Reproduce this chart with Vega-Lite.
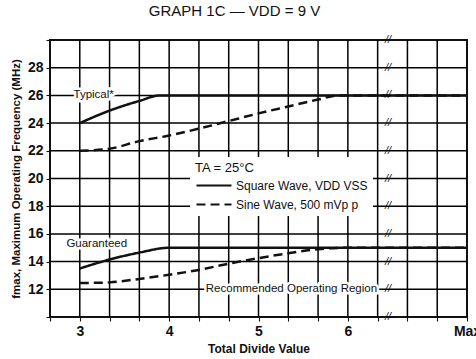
{
  "$schema": "https://vega.github.io/schema/vega-lite/v6.json",
  "autosize": "none",
  "width": 417,
  "height": 277,
  "padding": {"left": 50, "top": 40, "right": 9, "bottom": 42},
  "background": "white",
  "title": {
    "text": "GRAPH 1C — VDD = 9 V",
    "font": "Liberation Sans",
    "fontSize": 15,
    "fontWeight": "normal",
    "color": "#111",
    "anchor": "middle",
    "dx": -24,
    "offset": 14
  },
  "config": {
    "view": {"stroke": "#111", "strokeWidth": 2},
    "font": "Liberation Sans",
    "axis": {
      "domain": false,
      "tickColor": "#111",
      "tickSize": 4,
      "tickWidth": 1.1,
      "labelColor": "#111",
      "labelFont": "Liberation Sans",
      "labelFontSize": 14,
      "labelFontWeight": "bold",
      "labelOverlap": false,
      "titleColor": "#111",
      "titleFont": "Liberation Sans",
      "titleFontSize": 12,
      "titleFontWeight": "bold"
    }
  },
  "datasets": {
    "curves": [
      {"x": 3, "f": 24, "curve": "Typical", "wave": "Square Wave, VDD VSS"},
      {"x": 3.333, "f": 24.9, "curve": "Typical", "wave": "Square Wave, VDD VSS"},
      {"x": 3.667, "f": 25.6, "curve": "Typical", "wave": "Square Wave, VDD VSS"},
      {"x": 3.9, "f": 26, "curve": "Typical", "wave": "Square Wave, VDD VSS"},
      {"x": 7.3333, "f": 26, "curve": "Typical", "wave": "Square Wave, VDD VSS"},
      {"x": 3, "f": 22, "curve": "Typical", "wave": "Sine Wave, 500 mVp p"},
      {"x": 3.333, "f": 22.15, "curve": "Typical", "wave": "Sine Wave, 500 mVp p"},
      {"x": 3.667, "f": 22.7, "curve": "Typical", "wave": "Sine Wave, 500 mVp p"},
      {"x": 4, "f": 23.1, "curve": "Typical", "wave": "Sine Wave, 500 mVp p"},
      {"x": 4.333, "f": 23.6, "curve": "Typical", "wave": "Sine Wave, 500 mVp p"},
      {"x": 4.667, "f": 24.15, "curve": "Typical", "wave": "Sine Wave, 500 mVp p"},
      {"x": 5, "f": 24.7, "curve": "Typical", "wave": "Sine Wave, 500 mVp p"},
      {"x": 5.333, "f": 25.2, "curve": "Typical", "wave": "Sine Wave, 500 mVp p"},
      {"x": 5.667, "f": 25.7, "curve": "Typical", "wave": "Sine Wave, 500 mVp p"},
      {"x": 5.9, "f": 26, "curve": "Typical", "wave": "Sine Wave, 500 mVp p"},
      {"x": 7.3333, "f": 26, "curve": "Typical", "wave": "Sine Wave, 500 mVp p"},
      {"x": 3, "f": 13.5, "curve": "Guaranteed", "wave": "Square Wave, VDD VSS"},
      {"x": 3.333, "f": 14.15, "curve": "Guaranteed", "wave": "Square Wave, VDD VSS"},
      {"x": 3.667, "f": 14.65, "curve": "Guaranteed", "wave": "Square Wave, VDD VSS"},
      {"x": 4, "f": 15, "curve": "Guaranteed", "wave": "Square Wave, VDD VSS"},
      {"x": 7.3333, "f": 15, "curve": "Guaranteed", "wave": "Square Wave, VDD VSS"},
      {"x": 3, "f": 12.45, "curve": "Guaranteed", "wave": "Sine Wave, 500 mVp p"},
      {"x": 3.333, "f": 12.5, "curve": "Guaranteed", "wave": "Sine Wave, 500 mVp p"},
      {"x": 3.667, "f": 12.75, "curve": "Guaranteed", "wave": "Sine Wave, 500 mVp p"},
      {"x": 4, "f": 13.05, "curve": "Guaranteed", "wave": "Sine Wave, 500 mVp p"},
      {"x": 4.333, "f": 13.4, "curve": "Guaranteed", "wave": "Sine Wave, 500 mVp p"},
      {"x": 4.667, "f": 13.85, "curve": "Guaranteed", "wave": "Sine Wave, 500 mVp p"},
      {"x": 5, "f": 14.25, "curve": "Guaranteed", "wave": "Sine Wave, 500 mVp p"},
      {"x": 5.333, "f": 14.6, "curve": "Guaranteed", "wave": "Sine Wave, 500 mVp p"},
      {"x": 5.667, "f": 14.9, "curve": "Guaranteed", "wave": "Sine Wave, 500 mVp p"},
      {"x": 6, "f": 15, "curve": "Guaranteed", "wave": "Sine Wave, 500 mVp p"},
      {"x": 7.3333, "f": 15, "curve": "Guaranteed", "wave": "Sine Wave, 500 mVp p"}
    ],
    "grid": [
      {"g": "v1", "x": 3, "f": 10}, {"g": "v1", "x": 3, "f": 30},
      {"g": "v2", "x": 3.3333333, "f": 10}, {"g": "v2", "x": 3.3333333, "f": 30},
      {"g": "v3", "x": 3.6666667, "f": 10}, {"g": "v3", "x": 3.6666667, "f": 30},
      {"g": "v4", "x": 4, "f": 10}, {"g": "v4", "x": 4, "f": 30},
      {"g": "v5", "x": 4.3333333, "f": 10}, {"g": "v5", "x": 4.3333333, "f": 30},
      {"g": "v6", "x": 4.6666667, "f": 10}, {"g": "v6", "x": 4.6666667, "f": 30},
      {"g": "v7", "x": 5, "f": 10}, {"g": "v7", "x": 5, "f": 30},
      {"g": "v8", "x": 5.3333333, "f": 10}, {"g": "v8", "x": 5.3333333, "f": 30},
      {"g": "v9", "x": 5.6666667, "f": 10}, {"g": "v9", "x": 5.6666667, "f": 30},
      {"g": "v10", "x": 6, "f": 10}, {"g": "v10", "x": 6, "f": 30},
      {"g": "v11", "x": 6.3333333, "f": 10}, {"g": "v11", "x": 6.3333333, "f": 30},
      {"g": "v12", "x": 6.6666667, "f": 10}, {"g": "v12", "x": 6.6666667, "f": 30},
      {"g": "v13", "x": 7, "f": 10}, {"g": "v13", "x": 7, "f": 30},
      {"g": "h12", "x": 2.6666667, "f": 12}, {"g": "h12", "x": 7.3333333, "f": 12},
      {"g": "h14", "x": 2.6666667, "f": 14}, {"g": "h14", "x": 7.3333333, "f": 14},
      {"g": "h16", "x": 2.6666667, "f": 16}, {"g": "h16", "x": 7.3333333, "f": 16},
      {"g": "h18", "x": 2.6666667, "f": 18}, {"g": "h18", "x": 7.3333333, "f": 18},
      {"g": "h20", "x": 2.6666667, "f": 20}, {"g": "h20", "x": 7.3333333, "f": 20},
      {"g": "h22", "x": 2.6666667, "f": 22}, {"g": "h22", "x": 7.3333333, "f": 22},
      {"g": "h24", "x": 2.6666667, "f": 24}, {"g": "h24", "x": 7.3333333, "f": 24},
      {"g": "h26", "x": 2.6666667, "f": 26}, {"g": "h26", "x": 7.3333333, "f": 26},
      {"g": "h28", "x": 2.6666667, "f": 28}, {"g": "h28", "x": 7.3333333, "f": 28}
    ],
    "labels": [
      {"x": 2.93, "f": 26, "label": "Typical*"},
      {"x": 2.85, "f": 15.25, "label": "Guaranteed"},
      {"x": 4.41, "f": 12, "label": "Recommended Operating Region"}
    ],
    "breaks": [
      {"x": 6.45, "f": 10}, {"x": 6.45, "f": 12}, {"x": 6.45, "f": 14}, {"x": 6.45, "f": 16},
      {"x": 6.45, "f": 18}, {"x": 6.45, "f": 20}, {"x": 6.45, "f": 22}, {"x": 6.45, "f": 24},
      {"x": 6.45, "f": 26}, {"x": 6.45, "f": 28}, {"x": 6.45, "f": 30}
    ]
  },
  "encoding": {
    "x": {
      "field": "x", "type": "quantitative",
      "scale": {"domain": [2.6666667, 7.3333333], "nice": false, "zero": false},
      "axis": {
        "grid": false,
        "title": "Total Divide Value",
        "titlePadding": 5,
        "labelPadding": 3,
        "values": [2.6666667, 3, 3.3333333, 3.6666667, 4, 4.3333333, 4.6666667, 5, 5.3333333, 5.6666667, 6, 6.3333333, 6.6666667, 7, 7.3333333],
        "labelExpr": "datum.value > 7.2 ? 'Max' : (datum.value > 6.5 ? '' : (abs(datum.value - round(datum.value)) < 0.01 ? format(datum.value, 'd') : ''))",
        "labelFlush": false,
        "labelOverlap": false
      }
    },
    "y": {
      "field": "f", "type": "quantitative",
      "scale": {"domain": [10, 30], "nice": false, "zero": false},
      "axis": {
        "grid": false,
        "title": "fmax, Maximum Operating Frequency (MHz)",
        "titleFontSize": 11.5,
        "titlePadding": 6,
        "labelPadding": 3,
        "labelOverlap": false,
        "values": [10, 12, 14, 16, 18, 20, 22, 24, 26, 28, 30],
        "labelExpr": "datum.value == 10 || datum.value == 30 ? '' : datum.label"
      }
    }
  },
  "layer": [
    {
      "data": {"name": "grid"},
      "mark": {"type": "line", "stroke": "black", "strokeWidth": 1.5, "strokeOpacity": 1, "opacity": 1},
      "encoding": {"detail": {"field": "g"}}
    },
    {
      "data": {"name": "curves"},
      "mark": {"type": "line", "color": "#111", "strokeWidth": 2.5, "interpolate": "monotone"},
      "encoding": {
        "detail": {"field": "curve"},
        "strokeDash": {
          "field": "wave", "type": "nominal",
          "scale": {"domain": ["Square Wave, VDD VSS", "Sine Wave, 500 mVp p"], "range": [[1, 0], [9, 5]]},
          "legend": {
            "title": "TA = 25°C",
            "orient": "none",
            "legendX": 140,
            "legendY": 117,
            "fillColor": "white",
            "padding": 5,
            "symbolType": "M-1,0H4.83",
            "symbolSize": 144,
            "symbolStrokeWidth": 2.2,
            "symbolStrokeColor": "#111",
            "labelFontSize": 12,
            "labelColor": "#111",
            "labelFont": "Liberation Sans",
            "labelOffset": 26,
            "titleFontSize": 13,
            "titleFontWeight": "normal",
            "titleColor": "#111",
            "titleFont": "Liberation Sans",
            "titlePadding": 3,
            "rowPadding": 5
          }
        }
      }
    },
    {
      "data": {"name": "breaks"},
      "mark": {"type": "text", "text": "//", "fontSize": 11, "fontStyle": "italic", "color": "#111", "baseline": "middle"}
    },
    {
      "data": {"name": "labels"},
      "mark": {"type": "text", "align": "left", "baseline": "middle", "fontSize": 11.5, "stroke": "white", "strokeWidth": 5, "fill": "white"},
      "encoding": {"text": {"field": "label"}}
    },
    {
      "data": {"name": "labels"},
      "mark": {"type": "text", "align": "left", "baseline": "middle", "fontSize": 11.5, "color": "#111"},
      "encoding": {"text": {"field": "label"}}
    }
  ]
}
